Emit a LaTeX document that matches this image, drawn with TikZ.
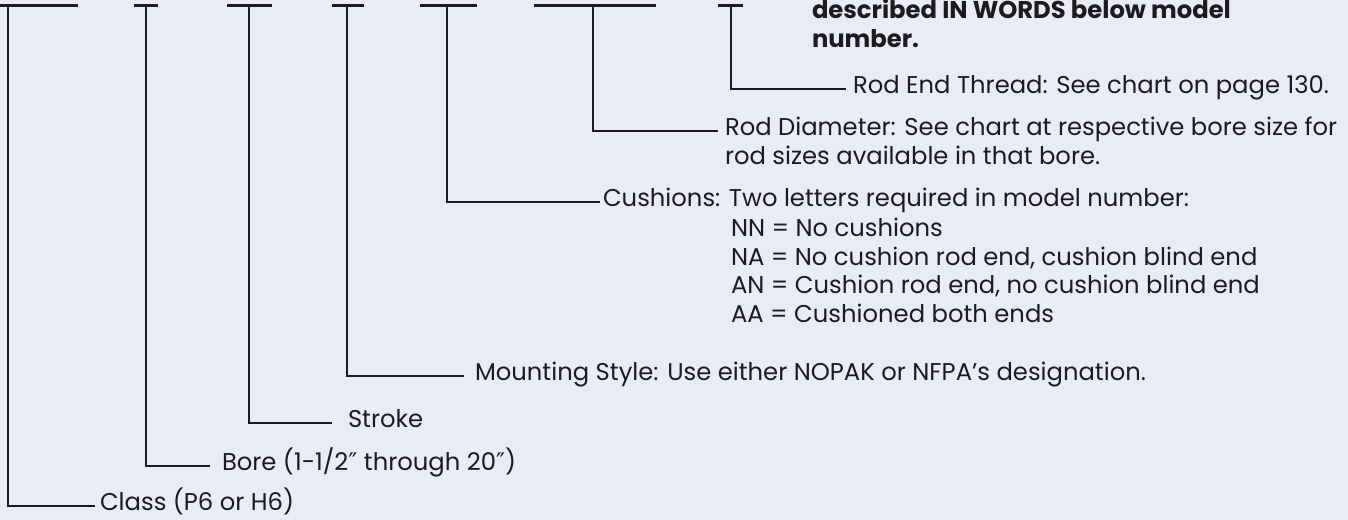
\documentclass[tikz,border=0pt]{standalone}
\usepackage{fontspec}
\setmainfont{Poppins}
\newfontfamily\symfont{DejaVu Sans}
\usepackage{tikz}
\usetikzlibrary{positioning}

\definecolor{paper}{RGB}{233,236,246}
\definecolor{ink}{RGB}{28,28,30}

\begin{document}
\begin{tikzpicture}[
    x=0.75pt, y=-0.75pt,
    bar/.style={draw=ink, line width=2.2pt},
    lead/.style={draw=ink, line width=0.9pt},
    lbl/.style={font=\fontsize{18.2}{22}\selectfont, text=ink, inner sep=0pt, outer sep=0pt, text height=0.7em, text depth=0pt, anchor=west},
    note/.style={lbl, font=\fontsize{18.2}{22}\selectfont\bfseries}
]

\useasboundingbox[fill=paper] (0,0) rectangle (1348,520);

% bars under the model number
\draw[bar] (0,5.5) -- (78,5.5);
\draw[bar] (134,5.5) -- (158,5.5);
\draw[bar] (227,5.5) -- (272,5.5);
\draw[bar] (332,5.5) -- (364,5.5);
\draw[bar] (420,5.5) -- (477,5.5);
\draw[bar] (534,5.5) -- (656,5.5);
\draw[bar] (718,5.5) -- (743,5.5);

\coordinate (tclass) at (8,5.5);
\coordinate (tbore) at (146,5.5);
\coordinate (tstroke) at (249,5.5);
\coordinate (tmount) at (347,5.5);
\coordinate (tcush) at (447,5.5);
\coordinate (trdia) at (593,5.5);
\coordinate (trend) at (731,5.5);

% note (bold)
\node[note] (note1) at (812,13.5) {described IN WORDS below model};
\node[note] (note2) at (812,42.5) {number.};

% labels
\node[lbl, outer xsep=5.25pt] (rend) at (846,89) {Rod End Thread: See chart on page 130.};
\node[lbl, outer xsep=5.25pt] (rdia) at (718,131) {Rod Diameter: See chart at respective bore size for};
\node[lbl] (rdia2) at (725,160) {rod sizes available in that bore.};
\node[lbl, outer xsep=2.25pt] (cush) at (600,202) {Cushions: Two letters required in model number:};
\node[lbl] (cushNN) at (731,232) {NN = No cushions};
\node[lbl] (cushNA) at (731,261) {NA = No cushion rod end, cushion blind end};
\node[lbl] (cushAN) at (731,289) {AN = Cushion rod end, no cushion blind end};
\node[lbl] (cushAA) at (731,318) {AA = Cushioned both ends};
\node[lbl, outer xsep=8.25pt] (mount) at (464,376) {Mounting Style: Use either NOPAK or NFPA’s designation.};
\node[lbl, outer xsep=12pt] (stroke) at (332,423) {Stroke};
\node[lbl, outer xsep=9pt] (bore) at (210,466) {Bore (1-1/2{\symfont ″} through 20{\symfont ″})};
\node[lbl, outer xsep=3.75pt] (class) at (95,506) {Class (P6 or H6)};

% leaders
\draw[lead] (trend) |- (rend);
\draw[lead] (trdia) |- (rdia);
\draw[lead] (tcush) |- (cush);
\draw[lead] (tmount) |- (mount);
\draw[lead] (tstroke) |- (stroke);
\draw[lead] (tbore) |- (bore);
\draw[lead] (tclass) |- (class);

\end{tikzpicture}
\end{document}
